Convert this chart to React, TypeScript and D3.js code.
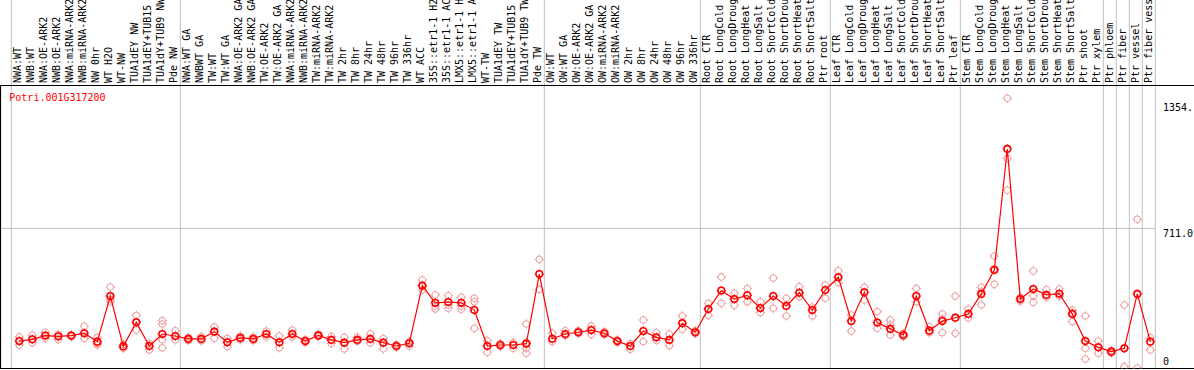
import React from "react";
import * as d3 from "d3";

const geneId = "Potri.001G317200";

const categories: string[] = [
  "NWA:WT", "NWB:WT", "NWA:OE-ARK2", "NWB:OE-ARK2", "NWA:miRNA-ARK2", "NWB:miRNA-ARK2",
  "NW 0hr", "WT H2O", "WT-NW", "TUA1dEY NW", "TUA1dEY+TUB15 NW", "TUA1dY+TUB9 NW", "Pde NW",
  "NWA:WT GA", "NWBWT GA", "TW:WT", "TW:WT GA", "NWA:OE-ARK2 GA", "NWB:OE-ARK2 GA",
  "TW:OE-ARK2", "TW:OE-ARK2 GA", "NWA:miRNA-ARK2", "NWB:miRNA-ARK2", "TW:miRNA-ARK2",
  "TW:miRNA-ARK2", "TW 2hr", "TW 8hr", "TW 24hr", "TW 48hr", "TW 96hr", "TW 336hr",
  "WT ACC", "35S::etr1-1 H2O", "35S::etr1-1 ACC", "LMX5::etr1-1 H2O", "LMX5::etr1-1 ACC",
  "WT-TW", "TUA1dEY TW", "TUA1dEY+TUB15 TW", "TUA1dY+TUB9 TW", "Pde TW",
  "OW:WT", "OW:WT GA", "OW:OE-ARK2", "OW:OE-ARK2 GA", "OW:miRNA-ARK2", "OW:miRNA-ARK2",
  "OW 2hr", "OW 8hr", "OW 24hr", "OW 48hr", "OW 96hr", "OW 336hr",
  "Root CTR", "Root LongCold", "Root LongDrought", "Root LongHeat", "Root LongSalt",
  "Root ShortCold", "Root ShortDrought", "Root ShortHeat", "Root ShortSalt", "Ptr root",
  "Leaf CTR", "Leaf LongCold", "Leaf LongDrought", "Leaf LongHeat", "Leaf LongSalt",
  "Leaf ShortCold", "Leaf ShortDrought", "Leaf ShortHeat", "Leaf ShortSalt", "Ptr leaf",
  "Stem CTR", "Stem LongCold", "Stem LongDrought", "Stem LongHeat", "Stem LongSalt",
  "Stem ShortCold", "Stem ShortDrought", "Stem ShortHeat", "Stem ShortSalt", "Ptr shoot",
  "Ptr xylem", "Ptr phloem", "Ptr fiber", "Ptr vessel", "Ptr fiber vessel",
];

// indices of the last category in each group (a separator is drawn after it)
const groupEnds: number[] = [-1, 12, 40, 52, 62, 72, 83, 84, 85, 86, 87];

const means: number[] = [
  137, 146, 165, 161, 165, 177, 134, 366, 110, 233, 112, 173, 163,
  148, 148, 185, 131, 153, 148, 173, 131, 173, 137, 166, 143, 129, 143, 148, 129, 112, 126,
  419, 332, 336, 332, 295, 112, 117, 117, 124, 478,
  149, 173, 182, 193, 177, 137, 112, 188, 156, 143, 228, 182,
  300, 394, 351, 370, 305, 366, 316, 383, 295, 397,
  462, 239, 385, 231, 199, 168, 366, 190, 239, 256,
  275, 377, 499, 1115, 351, 402, 372, 378, 275, 137, 105, 83, 100, 377, 134,
];

const rep1: (number | null)[] = [
  159, 168, 182, 171, 168, 212, 156, 412, 120, 268, 125, 241, 190,
  140, 160, 209, 151, 163, 158, 188, 163, 193, 130, 160, 160, 156, 156, 173, 150, 120, 112,
  448, 372, 368, 360, 355, 139, 125, 130, 224, 553,
  177, 190, 190, 214, 185, 143, 125, 244, 180, 173, 265, 190,
  329, 463, 380, 405, 337, 458, 355, 414, 310, 422,
  495, 270, 411, 287, 244, 175, 405, 210, 275, 366,
  300, 411, 570, 1373, 360, 494, 399, 402, 295, 265, 137, 90, 321, 757, 154,
];

const rep2: (number | null)[] = [
  117, 129, 151, 146, 159, 151, 117, 337, 100, 193, 92, 224, 143,
  155, 138, 151, 108, 143, 140, 158, 103, 158, 145, 172, 125, 97, 136, 128, 97, 105, 135,
  397, 315, 304, 299, 337, 80, 110, 100, 130, 400,
  135, 165, 175, 170, 170, 130, 95, 134, 140, 114, 197, 175,
  268, 329, 319, 337, 282, 304, 265, 363, 265, 355,
  434, 188, 346, 202, 168, 160, 337, 180, 180, 177,
  255, 321, 426, 1067, 340, 368, 360, 365, 236, 100, 75, 75, 7, 0, 92,
];

const rep3: (number | null)[] = [
  null, null, null, null, null, null, 125, 350, null, null, null, 143, null,
  null, null, null, null, null, null, null, null, null, null, null, null, null, null, null, null, null, null,
  null, 300, 320, 315, 202, null, null, null, 100, null,
  null, null, null, null, null, null, null, null, null, null, null, null,
  null, null, null, null, null, null, null, null, null, null,
  null, null, null, null, 220, null, null, null, 250, null,
  null, 390, 505, 905, null, 334, null, null, 280, 46, null, null, null, null, null,
];

const rep4: (number | null)[] = [
  null, null, null, null, null, null, null, null, null, null, null, 103, null,
  null, null, null, null, null, null, null, null, null, null, null, null, null, null, null, null, null, null,
  null, null, null, null, null, null, null, null, 75, null,
  null, null, null, null, null, null, null, null, null, null, null, null,
  null, null, null, null, null, null, null, null, null, null,
  null, null, null, null, null, null, null, null, null, null,
  null, null, null, null, null, null, null, null, null, null, null, null, null, null, null,
];

const yTickValues: number[] = [1354, 711, 0];
const yTickLabels: string[] = ["1354.", "711.0", "0"];

const W = 1194;
const H = 370;
const FONT = "'DejaVu Sans Mono', 'Liberation Mono', monospace";

function Marker({ cx, cy, color, sw }: { cx: number; cy: number; color: string; sw: number }) {
  const r = 3.3;
  const t = 1.4;
  const d = `M${cx},${cy - r - t}v${t}M${cx},${cy + r}v${t}M${cx - r - t},${cy}h${t}M${cx + r},${cy}h${t}`;
  return (
    <g>
      <circle cx={cx} cy={cy} r={r} fill="none" stroke={color} strokeWidth={sw} />
      <path d={d} stroke={color} strokeWidth={1} fill="none" />
    </g>
  );
}

export default function App() {
  const n = categories.length;
  const x = d3.scaleLinear().domain([0, n - 1]).range([19.3, 19.3 + 13 * (n - 1)]);
  const y = d3.scaleLinear().domain([0, 1354]).range([368, 102]);
  const plotTop = 85;
  const plotBottom = 368.5;
  const plotRight = 1156;

  const line = d3
    .line<number>()
    .x((_, i) => x(i))
    .y((d) => y(d));

  const reps = [rep1, rep2, rep3, rep4];

  return (
    <svg
      width={W}
      height={H}
      style={{ position: "absolute", left: 0, top: 0, background: "#fff" }}
      fontFamily={FONT}
    >
      <defs>
        <clipPath id="plotclip">
          <rect x={0} y={plotTop} width={plotRight} height={plotBottom - plotTop} />
        </clipPath>
      </defs>
      <rect x={0} y={0} width={W} height={H} fill="#fff" />

      {/* group separators */}
      {groupEnds.map((g, i) => (
        <line
          key={"g" + i}
          x1={x(g) + 5}
          x2={x(g) + 5}
          y1={0}
          y2={plotBottom}
          stroke="#c0c0c0"
          strokeWidth={1}
        />
      ))}

      {/* horizontal reference line */}
      <line x1={0} x2={plotRight} y1={y(711)} y2={y(711)} stroke="#c0c0c0" strokeWidth={1} />

      {/* category labels */}
      {categories.map((c, i) => (
        <text
          key={"c" + i}
          transform={`translate(${x(i) + 1.5},83) rotate(-90)`}
          fontSize={10}
          fill="#000"
        >
          {c}
        </text>
      ))}

      {/* frame */}
      <line x1={0} x2={W} y1={85.5} y2={85.5} stroke="#000" strokeWidth={1} />
      <line x1={0} x2={W} y1={plotBottom} y2={plotBottom} stroke="#000" strokeWidth={1.2} />
      <line x1={0.5} x2={0.5} y1={85} y2={plotBottom} stroke="#000" strokeWidth={1.2} />

      <text x={9.3} y={100.5} fontSize={10} fill="#ff0000">
        {geneId}
      </text>

      {/* y tick labels */}
      {yTickValues.map((v, i) => (
        <text
          key={"t" + i}
          x={1163}
          y={i === 2 ? 365 : y(v) + 8.5}
          fontSize={10}
          fill="#000"
        >
          {yTickLabels[i]}
        </text>
      ))}

      <g clipPath="url(#plotclip)">
        {reps.map((arr, k) =>
          arr.map((v, i) =>
            v === null ? null : (
              <Marker key={`r${k}-${i}`} cx={x(i)} cy={y(v)} color="#f09a9a" sw={1} />
            )
          )
        )}
        <path d={line(means) || ""} fill="none" stroke="#ff0000" strokeWidth={1.2} />
        {means.map((v, i) => (
          <Marker key={"m" + i} cx={x(i)} cy={y(v)} color="#ff0000" sw={1.6} />
        ))}
      </g>
    </svg>
  );
}
